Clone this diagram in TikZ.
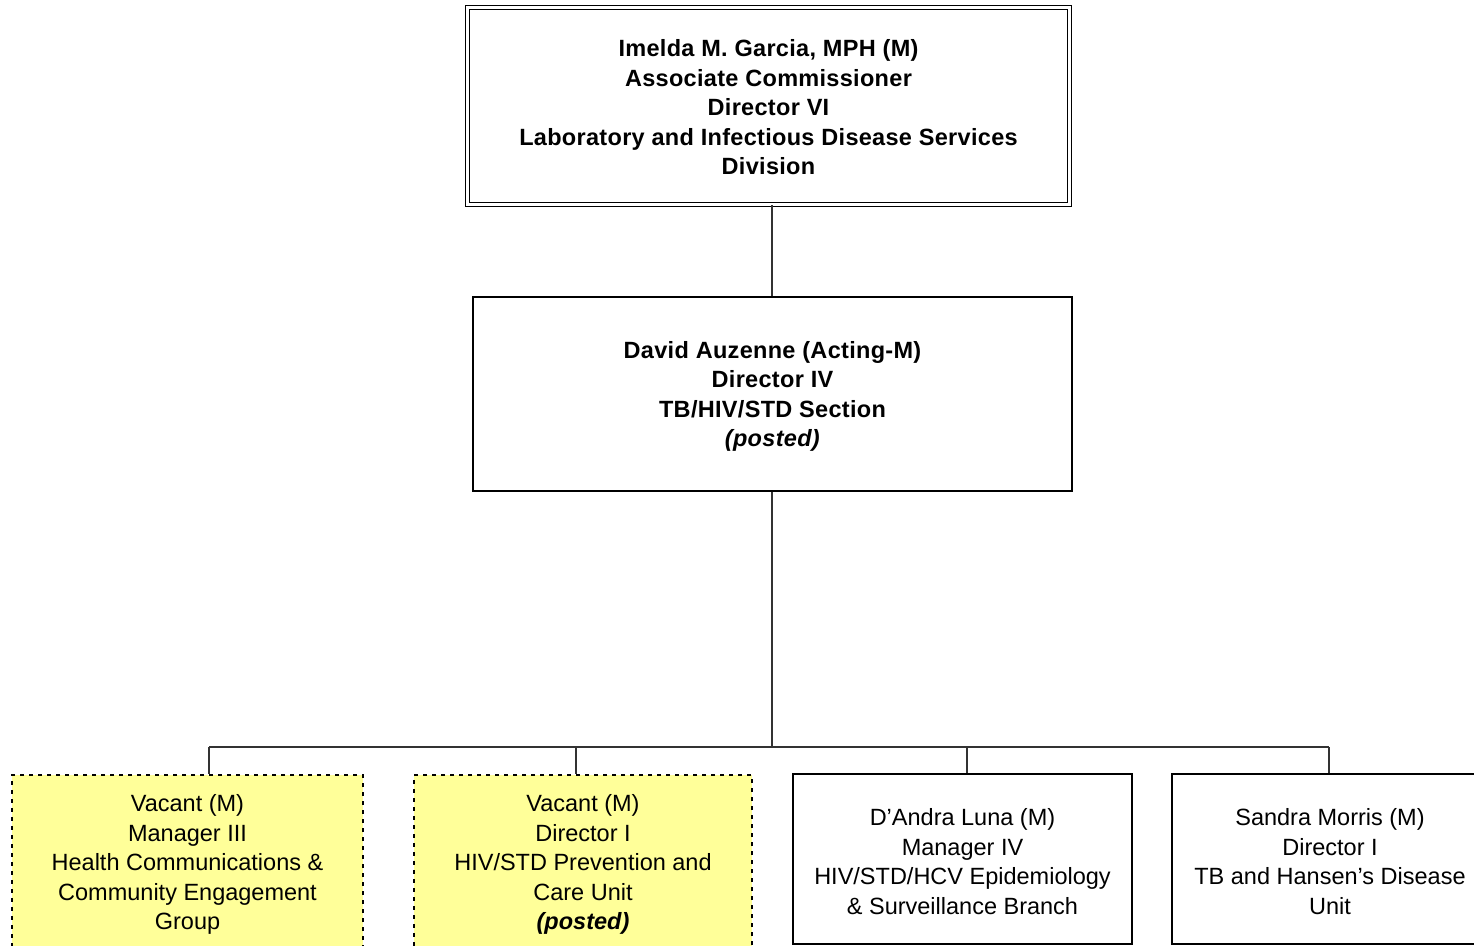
\documentclass[tikz,border=0pt]{standalone}
\usepackage{fontspec}
\setmainfont{Liberation Sans}
\usetikzlibrary{calc}
\definecolor{paleyellow}{HTML}{FFFF99}
\definecolor{linkgray}{HTML}{333333}
\tikzset{
  boxtext/.style={align=center, font=\fontsize{23.5}{29.5}\selectfont, inner sep=0pt},
  topbox/.style={boxtext, draw, line width=1.4pt, double, double distance=2.6pt, minimum width=602pt, minimum height=197pt, font=\fontsize{23.5}{29.5}\selectfont\bfseries\addfontfeatures{LetterSpace=1.3}},
  midbox/.style={boxtext, draw, line width=2pt, minimum width=599pt, minimum height=194pt, font=\fontsize{23.5}{29.5}\selectfont\bfseries\addfontfeatures{LetterSpace=1.3}},
  solidbox/.style={boxtext, draw, line width=2pt, minimum width=339pt, minimum height=170pt},
  vacantbox/.style={boxtext, draw, fill=paleyellow, line width=2.5pt, dash pattern=on 4pt off 5pt, minimum width=351pt, minimum height=174pt},
  link/.style={draw=linkgray, line width=1.2pt}
}
\begin{document}
\begin{tikzpicture}[x=1pt,y=-1pt]
\useasboundingbox (0,0) rectangle (1474,945);
\clip (0,0) rectangle (1474,945);
\fill[white] (0,0) rectangle (1474,945);

\node[topbox] (top) at (768.5,106) {\rule{0pt}{20pt}Imelda M. Garcia, MPH (M)\\Associate Commissioner\\Director VI\\Laboratory and Infectious Disease Services\\Division};
\node[midbox] (mid) at (772.5,394) {\rule{0pt}{22pt}David Auzenne (Acting-M)\\Director IV\\TB/HIV/STD Section\\\textit{(posted)}};

\node[vacantbox] (b1) at (187.5,862) {\rule{0pt}{22pt}Vacant (M)\\Manager III\\Health Communications \&\\Community Engagement\\Group};
\node[vacantbox, minimum width=338pt] (b2) at (583,862) {\rule{0pt}{22pt}Vacant (M)\\Director I\\HIV/STD Prevention and\\Care Unit\\\textbf{\textit{(posted)}}};
\node[solidbox] (b3) at (962.5,859) {\rule{0pt}{22pt}D’Andra Luna (M)\\Manager IV\\HIV/STD/HCV Epidemiology\\\& Surveillance Branch};
\node[solidbox] (b4) at (1341.5,859) {\hspace*{-23pt}\rule{0pt}{22pt}Sandra Morris (M)\\\hspace*{-23pt}Director I\\\hspace*{-23pt}TB and Hansen’s Disease\\\hspace*{-23pt}Unit};

\coordinate (bus) at (772,747);
\coordinate (j1) at (209,747);
\coordinate (j2) at (576,747);
\coordinate (j3) at (967,747);
\coordinate (j4) at (1329,747);

\draw[link] (top.south -| bus) -- (mid.north -| bus);
\draw[link] (mid.south -| bus) -- (bus);
\draw[link] (j1) -- (j4);
\draw[link] (j1) -- (j1 |- b1.north);
\draw[link] (j2) -- (j2 |- b2.north);
\draw[link] (j3) -- (j3 |- b3.north);
\draw[link] (j4) -- (j4 |- b4.north);
\end{tikzpicture}
\end{document}
